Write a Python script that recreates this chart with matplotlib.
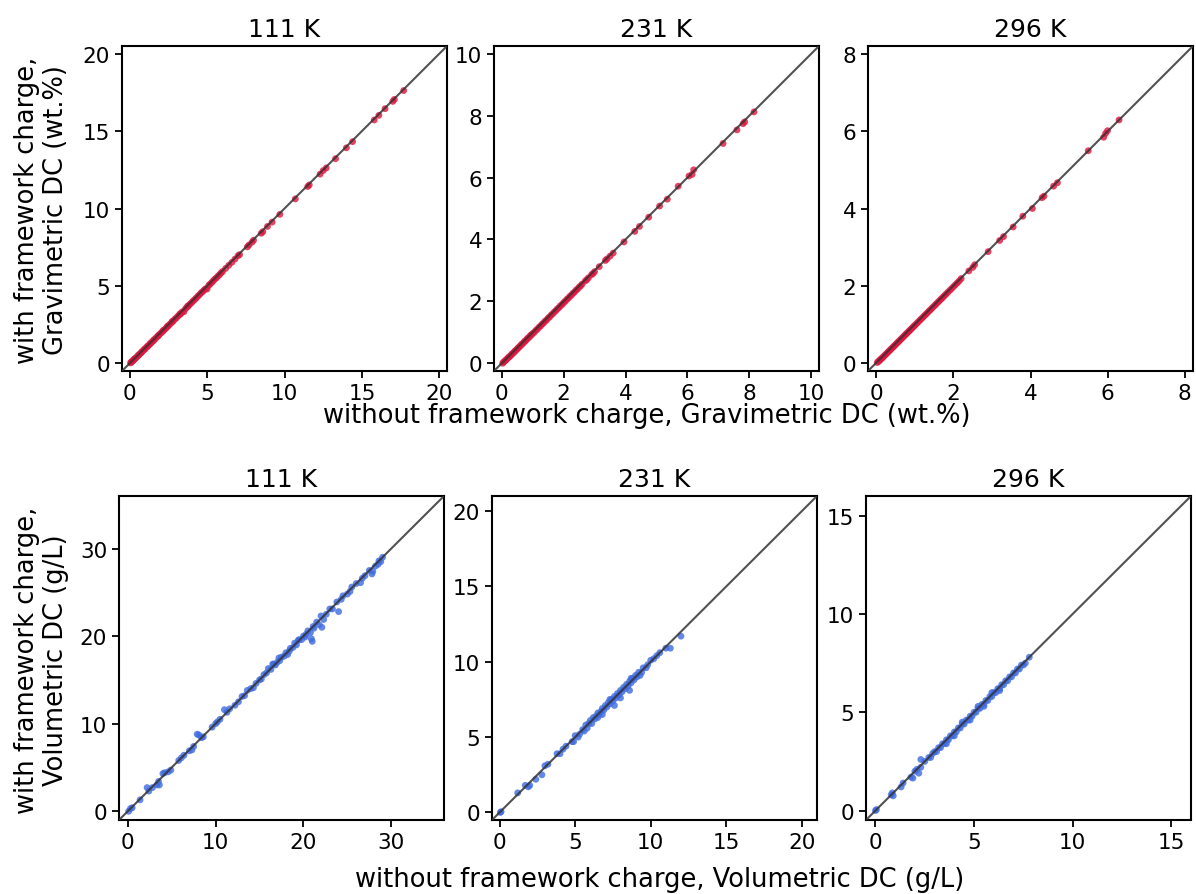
import matplotlib
matplotlib.use("Agg")
import matplotlib.pyplot as plt
from matplotlib.ticker import MultipleLocator

# --- data ---
temps = ["111 K", "231 K", "296 K"]

grav_111_x = [0.05, 0.1, 0.15, 0.2, 0.25, 0.3, 0.35, 0.4, 0.5, 0.55, 0.6, 0.7, 0.75, 0.8, 0.9, 0.95,
              1.0, 1.1, 1.15, 1.2, 1.3, 1.35, 1.4, 1.5, 1.55, 1.6, 1.7, 1.8, 1.85, 1.9, 2.0, 2.1,
              2.15, 2.2, 2.3, 2.4, 2.45, 2.5, 2.6, 2.7, 2.75, 2.8, 2.9, 3.0, 3.1, 3.2, 3.25, 3.3,
              3.4, 3.5, 3.6, 3.7, 3.75, 3.8, 3.9, 4.0, 4.1, 4.2, 4.3, 4.4, 4.5, 4.6, 4.7, 4.8,
              4.9, 5.0, 5.1, 5.2, 5.3, 5.4, 5.5, 5.6, 5.7, 5.8, 5.9, 6.0,
              6.2, 6.4, 6.6, 6.8, 7.0, 7.1, 7.6, 7.7, 7.9, 8.0, 8.5, 8.6, 8.9, 9.2, 9.7, 10.7,
              11.5, 11.6, 12.3, 12.5, 12.7, 13.3, 14.0, 14.4, 15.8, 16.1, 16.5, 17.0, 17.1, 17.7]
grav_111_y = [0.02, 0.08, 0.12, 0.15, 0.22, 0.27, 0.3, 0.36, 0.45, 0.5, 0.56, 0.64, 0.7, 0.76, 0.85, 0.9,
              0.95, 1.04, 1.1, 1.14, 1.24, 1.3, 1.34, 1.44, 1.48, 1.55, 1.64, 1.74, 1.78, 1.85, 1.94, 2.03,
              2.1, 2.14, 2.22, 2.33, 2.4, 2.43, 2.53, 2.63, 2.7, 2.72, 2.84, 2.92, 3.03, 3.12, 3.2, 3.2,
              3.33, 3.33, 3.52, 3.62, 3.7, 3.72, 3.83, 3.92, 4.03, 4.12, 4.22, 4.33, 4.42, 4.54, 4.62, 4.72,
              4.82, 4.8, 5.03, 5.12, 5.22, 5.33, 5.44, 5.52, 5.63, 5.72, 5.84, 5.93,
              6.13, 6.33, 6.52, 6.73, 6.95, 7.02, 7.52, 7.64, 7.82, 7.95, 8.4, 8.5, 8.84, 9.12, 9.62, 10.62,
              11.42, 11.52, 12.22, 12.45, 12.62, 13.22, 13.92, 14.32, 15.72, 16.02, 16.45, 16.92, 17.05, 17.62]

grav_231_x = [0.03, 0.06, 0.1, 0.13, 0.16, 0.2, 0.23, 0.26, 0.3, 0.33, 0.36, 0.4, 0.43, 0.46, 0.5, 0.53,
              0.56, 0.6, 0.63, 0.66, 0.7, 0.73, 0.76, 0.8, 0.83, 0.86, 0.9, 0.93, 0.96, 1.0, 1.05, 1.1,
              1.15, 1.2, 1.25, 1.3, 1.35, 1.4, 1.45, 1.5, 1.55, 1.6, 1.65, 1.7, 1.75, 1.8, 1.85, 1.9,
              1.95, 2.0, 2.05, 2.1, 2.15, 2.2, 2.25, 2.3, 2.35, 2.4, 2.45, 2.5, 2.55, 2.6, 2.7, 2.75,
              2.8, 2.9, 2.95, 3.0,
              3.15, 3.35, 3.4, 3.5, 3.6, 3.95, 4.3, 4.45, 4.75, 5.1,
              5.35, 5.7, 6.05, 6.15, 6.2, 7.15, 7.6, 7.8, 7.85, 8.15]
grav_231_y = [0.0, 0.04, 0.07, 0.1, 0.13, 0.17, 0.2, 0.22, 0.26, 0.3, 0.32, 0.36, 0.4, 0.42, 0.46, 0.5,
              0.52, 0.56, 0.6, 0.62, 0.66, 0.7, 0.72, 0.76, 0.8, 0.82, 0.86, 0.9, 0.92, 0.96, 1.0, 1.06,
              1.1, 1.16, 1.2, 1.26, 1.3, 1.36, 1.4, 1.46, 1.5, 1.56, 1.6, 1.66, 1.7, 1.76, 1.8, 1.86,
              1.9, 1.96, 2.0, 2.06, 2.1, 2.16, 2.2, 2.26, 2.3, 2.36, 2.4, 2.46, 2.5, 2.56, 2.66, 2.7,
              2.76, 2.86, 2.9, 2.96,
              3.12, 3.32, 3.37, 3.46, 3.56, 3.92, 4.26, 4.42, 4.72, 5.08,
              5.3, 5.72, 6.05, 6.1, 6.25, 7.1, 7.54, 7.74, 7.8, 8.12]

grav_296_x = [0.02, 0.05, 0.08, 0.1, 0.13, 0.16, 0.19, 0.22, 0.25, 0.28, 0.31, 0.34, 0.37, 0.4, 0.43, 0.46,
              0.49, 0.52, 0.55, 0.58, 0.61, 0.64, 0.67, 0.7, 0.73, 0.76, 0.79, 0.82, 0.85, 0.88, 0.91, 0.94,
              0.97, 1.0, 1.04, 1.08, 1.12, 1.16, 1.2, 1.24, 1.28, 1.32, 1.36, 1.4, 1.44, 1.48, 1.52, 1.56,
              1.6, 1.64, 1.68, 1.72, 1.76, 1.8, 1.85, 1.9, 1.95, 2.0, 2.05, 2.1, 2.15, 2.2,
              2.4, 2.5, 2.55, 2.9, 3.2, 3.3, 3.55, 3.8, 4.05, 4.3,
              4.35, 4.6, 4.7, 5.5, 5.9, 5.95, 6.0, 6.3]
grav_296_y = [0.0, 0.03, 0.05, 0.08, 0.1, 0.13, 0.16, 0.19, 0.22, 0.25, 0.28, 0.31, 0.34, 0.37, 0.4, 0.43,
              0.46, 0.49, 0.52, 0.55, 0.58, 0.61, 0.64, 0.67, 0.7, 0.73, 0.76, 0.79, 0.82, 0.85, 0.88, 0.91,
              0.94, 0.97, 1.01, 1.05, 1.09, 1.13, 1.17, 1.21, 1.25, 1.29, 1.33, 1.37, 1.41, 1.45, 1.49, 1.53,
              1.57, 1.61, 1.65, 1.69, 1.73, 1.77, 1.82, 1.87, 1.92, 1.97, 2.02, 2.07, 2.12, 2.18,
              2.38, 2.47, 2.54, 2.88, 3.17, 3.27, 3.52, 3.8, 4.0, 4.28,
              4.32, 4.58, 4.67, 5.5, 5.85, 5.95, 6.02, 6.3]

vol_111_x = [0.1, 0.3, 0.5, 1.4, 2.2, 2.4, 2.8, 3.3, 3.5, 3.6, 4.0, 4.2, 4.6, 4.9, 5.8, 6.1, 6.4, 7.0, 7.3, 7.5,
             7.9, 8.1, 8.4, 8.6, 9.6, 10.0, 10.2, 10.5, 11.0, 11.3, 11.6, 12.2, 12.6, 13.0, 13.3, 13.6, 14.0, 14.3, 14.6, 15.0,
             15.2, 15.5, 15.8, 16.0, 16.3, 16.5, 16.8, 17.0, 17.3, 17.5, 17.8, 18.0, 18.2, 18.5, 18.8, 19.0, 19.2, 19.5, 19.8, 20.0,
             20.3, 20.5, 20.8, 21.0, 21.2, 21.5, 21.8, 22.0, 22.3, 22.6, 23.0, 23.3, 23.8, 24.0, 24.5, 25.0, 25.5, 26.0, 26.5, 27.0,
             27.5, 27.8, 28.2, 28.5, 28.8, 29.0,
             16.6, 17.2, 18.4, 19.4, 20.2, 21.1, 22.1, 24.3, 25.3, 26.7, 27.9, 28.6, 20.9]
vol_111_y = [0.0, 0.3, 0.4, 1.3, 2.7, 2.3, 2.7, 3.0, 3.4, 3.0, 4.3, 4.4, 4.5, 4.7, 5.8, 6.1, 6.4, 6.9, 7.0, 7.4,
             8.8, 8.7, 8.4, 8.5, 9.6, 10.0, 10.2, 10.5, 11.6, 11.3, 11.7, 12.1, 12.5, 13.1, 13.2, 13.8, 14.0, 14.1, 14.6, 15.0,
             15.1, 15.6, 15.8, 16.3, 16.2, 16.8, 16.7, 17.0, 17.2, 17.6, 17.7, 18.1, 17.9, 18.6, 18.7, 19.2, 19.0, 19.6, 19.6, 20.0,
             20.2, 20.6, 20.4, 19.4, 20.9, 21.6, 21.3, 22.3, 21.9, 22.5, 23.1, 23.1, 23.9, 22.8, 24.6, 24.8, 25.6, 26.0, 26.1, 26.9,
             27.5, 27.1, 28.0, 28.2, 28.5, 29.0,
             16.8, 17.5, 18.3, 19.5, 19.9, 21.1, 21.0, 24.2, 25.1, 26.6, 27.4, 28.6, 19.7]

vol_231_x = [0.05, 0.1, 1.2, 1.7, 1.9, 2.0, 2.4, 2.8, 3.0, 3.2, 3.8, 4.0, 4.2, 4.4, 4.8, 4.9, 5.0, 5.2, 5.3, 5.5,
             5.6, 5.7, 5.8, 5.9, 6.0, 6.1, 6.2, 6.3, 6.4, 6.5, 6.6, 6.7, 6.8, 6.9, 7.0, 7.1, 7.2, 7.3, 7.4, 7.5,
             7.6, 7.7, 7.8, 7.9, 8.0, 8.1, 8.2, 8.3, 8.4, 8.5, 8.6, 8.7, 8.8, 8.9, 9.0, 9.1, 9.2, 9.4, 9.5, 9.7,
             9.8, 10.0, 10.2, 10.4, 10.6, 11.0, 11.3, 12.0,
             6.8, 7.6, 8.0, 8.6, 8.7, 7.3, 6.5, 9.3]
vol_231_y = [0.0, 0.05, 1.3, 1.8, 1.7, 1.8, 2.2, 2.5, 3.1, 3.2, 3.9, 3.9, 4.2, 4.4, 4.7, 4.7, 5.1, 5.0, 5.2, 5.5,
             5.4, 5.8, 5.6, 5.9, 6.1, 5.9, 6.3, 6.2, 6.4, 6.6, 6.5, 6.7, 6.9, 6.8, 7.1, 7.0, 7.3, 7.2, 7.5, 7.4,
             7.7, 7.6, 7.9, 7.8, 8.1, 8.0, 8.3, 8.2, 8.5, 8.4, 8.7, 8.6, 8.9, 8.8, 9.1, 9.0, 9.3, 9.3, 9.6, 9.6,
             9.8, 10.1, 10.2, 10.4, 10.6, 10.9, 10.9, 11.7,
             6.5, 7.1, 7.6, 8.1, 8.9, 7.5, 6.3, 9.1]

vol_296_x = [0.0, 0.05, 0.8, 0.85, 0.9, 1.3, 1.4, 1.8, 1.9, 2.0, 2.1, 2.2, 2.3, 2.3, 2.5, 2.7, 2.8, 2.9, 3.0, 3.1,
             3.2, 3.3, 3.4, 3.5, 3.6, 3.7, 3.8, 3.9, 4.0, 4.1, 4.2, 4.3, 4.4, 4.5, 4.6, 4.7, 4.8, 4.9, 5.0, 5.1,
             5.2, 5.3, 5.4, 5.5, 5.6, 5.7, 5.8, 5.9, 6.0, 6.1, 6.2, 6.3, 6.4, 6.5, 6.6, 6.7, 6.8, 6.9, 7.0, 7.1,
             7.2, 7.3, 7.4, 7.5, 7.6, 7.8,
             3.6, 4.4, 4.8, 5.2, 5.5, 5.9, 6.3, 4.0]
vol_296_y = [0.0, 0.05, 0.8, 0.9, 0.75, 1.2, 1.4, 1.7, 1.65, 2.0, 2.1, 1.9, 2.6, 2.2, 2.5, 2.7, 2.7, 2.9, 3.0, 3.0,
             3.2, 3.2, 3.4, 3.4, 3.6, 3.6, 3.8, 3.8, 4.0, 4.0, 4.2, 4.2, 4.4, 4.4, 4.6, 4.6, 4.8, 4.8, 5.0, 5.0,
             5.2, 5.2, 5.4, 5.4, 5.6, 5.6, 5.8, 5.8, 6.0, 6.0, 6.2, 6.2, 6.4, 6.4, 6.6, 6.6, 6.8, 6.8, 7.0, 7.0,
             7.2, 7.2, 7.4, 7.4, 7.5, 7.8,
             3.4, 4.5, 4.6, 5.3, 5.3, 6.0, 6.1, 3.8]

grav_lims = [(-0.5, 20.5), (-0.25, 10.25), (-0.22, 8.22)]
vol_lims = [(-1.0, 36.0), (-0.5, 21.0), (-0.48, 16.0)]
grav_steps = [5, 2, 2]
vol_steps = [10, 5, 5]

grav_data = [(grav_111_x, grav_111_y), (grav_231_x, grav_231_y), (grav_296_x, grav_296_y)]
vol_data = [(vol_111_x, vol_111_y), (vol_231_x, vol_231_y), (vol_296_x, vol_296_y)]

plt.rcParams["font.family"] = "DejaVu Sans"

fig = plt.figure(figsize=(11.96, 8.95), dpi=100)

W, H = 1196, 895
top_lefts = [122, 494, 868]
bot_lefts = [119, 492, 866]
aw = 325


def panel(left_px, top_px, h_px, data, lims, step, title, color):
    ax = fig.add_axes([left_px / W, 1 - (top_px + h_px) / H, aw / W, h_px / H])
    x, y = data
    ax.scatter(x, y, s=24, color=color, alpha=0.8, edgecolors="none", zorder=2)
    ax.plot(lims, lims, color="#333333", linewidth=1.5, alpha=0.85, zorder=3)
    ax.set_xlim(lims)
    ax.set_ylim(lims)
    ax.xaxis.set_major_locator(MultipleLocator(step))
    ax.yaxis.set_major_locator(MultipleLocator(step))
    ax.set_title(title, fontsize=18, pad=7)
    ax.tick_params(labelsize=15.5, width=1.3, length=5)
    for sp in ax.spines.values():
        sp.set_linewidth(1.5)
    return ax


for i in range(3):
    panel(top_lefts[i], 47, 325, grav_data[i], grav_lims[i], grav_steps[i], temps[i], "#e0143c")
    panel(bot_lefts[i], 497, 324, vol_data[i], vol_lims[i], vol_steps[i], temps[i], "#3f6be0")

fig.text(42 / W, 1 - 210 / H, "with framework charge,\nGravimetric DC (wt.%)", rotation=90,
         ha="center", va="center", fontsize=18.5, multialignment="center", linespacing=1.15)
fig.text(42 / W, 1 - 660 / H, "with framework charge,\nVolumetric DC (g/L)", rotation=90,
         ha="center", va="center", fontsize=18.5, multialignment="center", linespacing=1.15)
fig.text(647 / W, 1 - 416 / H, "without framework charge, Gravimetric DC (wt.%)",
         ha="center", va="center", fontsize=18.5)
fig.text(660 / W, 1 - 880 / H, "without framework charge, Volumetric DC (g/L)",
         ha="center", va="center", fontsize=18.5)

fig.savefig("out.png", dpi=100)
